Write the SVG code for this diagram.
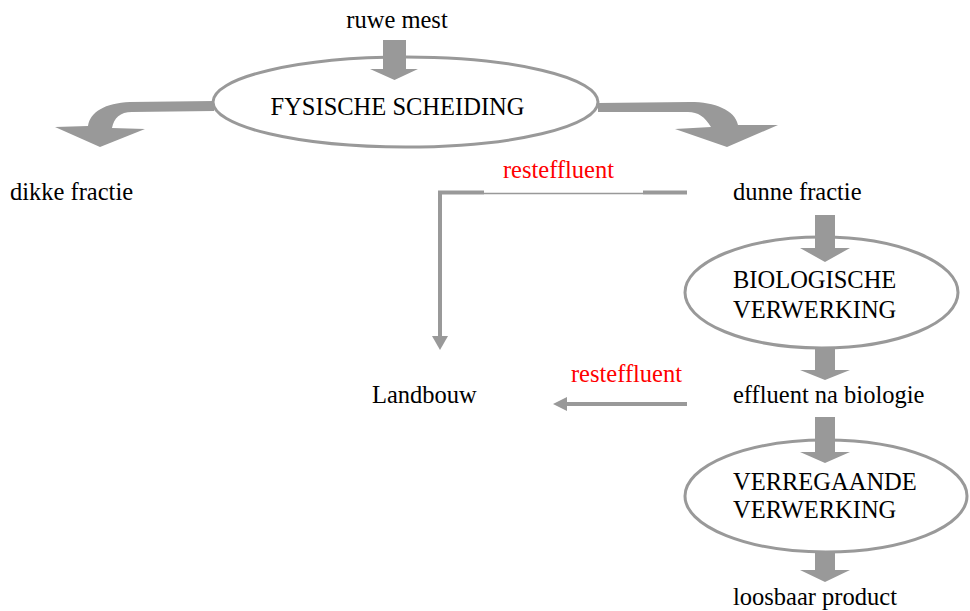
<svg xmlns="http://www.w3.org/2000/svg" width="970" height="611" viewBox="0 0 970 611">
<defs>
<style>
text{font-family:"Liberation Serif","Times New Roman",serif;font-size:24.5px;fill:#000}
.red{fill:#ff0000}
.ell{fill:#fff;stroke:#999;stroke-width:3}
.fat{fill:#999;stroke:none}
.ln{stroke:#999;stroke-width:4;fill:none}
</style>
</defs>
<rect width="970" height="611" fill="#fff"/>
<g id="connectors">
<path class="fat" d="M214 101 L130 102 C105 103 90 112 88 126 L55 127 L100 147 L145 129 L112 128 C114 118 120 112 132 112 L214 111 Z"/>
<path class="fat" d="M598 103 L690 102 C715 102 735 110 738 125 L778 125 L727 147 L675 129 L711 127 C705 117 698 112 688 112 L598 112 Z"/>
<path class="ln" d="M687 192.5 L643 192.5 M484 192.5 L440 192.5 L440 338" stroke-width="3.5"/>
<path class="fat" d="M432 336 L448 336 L440 350 Z"/>
<line x1="484" y1="193.5" x2="643" y2="193.5" stroke="#999" stroke-width="1.5"/>
<path class="ln" d="M687 404 L564 404"/>
<path class="fat" d="M567 397 L567 411 L553 404 Z"/>
</g>
<g id="n-fysische">
<ellipse class="ell" cx="405.5" cy="102" rx="192.5" ry="45"/>
<text x="397.5" y="115" text-anchor="middle">FYSISCHE SCHEIDING</text>
</g>
<g id="n-biologische">
<ellipse class="ell" cx="821.5" cy="292.5" rx="136.5" ry="55.5"/>
<text x="733" y="288">BIOLOGISCHE</text>
<text x="733" y="318">VERWERKING</text>
</g>
<g id="n-verregaande">
<ellipse class="ell" cx="826" cy="496" rx="141" ry="56"/>
<text x="733" y="490">VERREGAANDE</text>
<text x="733" y="518">VERWERKING</text>
</g>
<g id="block-arrows">
<path class="fat" d="M383 40 L406 40 L406 69 L418 69 L394.5 80 L370 69 L383 69 Z"/>
<path class="fat" d="M815 215 L835 215 L835 248 L850 248 L825 262 L800 248 L815 248 Z"/>
<path class="fat" d="M815 349 L835 349 L835 370 L850 370 L825 380 L800 370 L815 370 Z"/>
<path class="fat" d="M815 417 L835 417 L835 452 L850 452 L825 463 L800 452 L815 452 Z"/>
<path class="fat" d="M815 553 L835 553 L835 570 L850 570 L825 582 L800 570 L815 570 Z"/>
</g>
<g id="n-ruwe"><text x="397" y="28" text-anchor="middle">ruwe mest</text></g>
<g id="n-dikke"><text x="10" y="200">dikke fractie</text></g>
<g id="n-dunne"><text x="733" y="200">dunne fractie</text></g>
<g id="n-landbouw"><text x="372" y="403">Landbouw</text></g>
<g id="n-effluent"><text x="733" y="403">effluent na biologie</text></g>
<g id="n-loosbaar"><text x="733" y="605">loosbaar product</text></g>
<g id="labels">
<text class="red" x="558.5" y="178" text-anchor="middle">resteffluent</text>
<text class="red" x="626.5" y="382" text-anchor="middle">resteffluent</text>
</g>
</svg>
